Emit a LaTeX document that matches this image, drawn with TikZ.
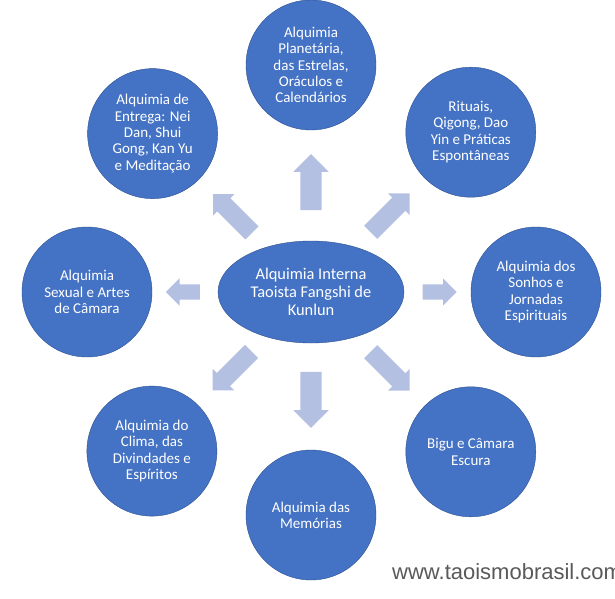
\documentclass[tikz,border=0pt]{standalone}
\usepackage{fontspec}
\setmainfont{Carlito}
\newfontfamily\webfont{Liberation Sans}
\usetikzlibrary{shapes.geometric,shapes.arrows,calc}
\definecolor{circblue}{HTML}{4472C4}
\definecolor{circline}{HTML}{2F528F}
\definecolor{arrblue}{HTML}{B4C0E2}
\definecolor{webgray}{HTML}{595959}

\begin{document}
\begin{tikzpicture}[x=1pt, y=1pt,
  hub/.style={ellipse, draw=circline, fill=circblue, text=white, align=center,
              font=\fontsize{16.4}{17.8}\selectfont, minimum width=186pt,
              minimum height=102pt, inner sep=0pt},
  topic/.style={circle, draw=circline, fill=circblue, text=white, align=center,
                font=\fontsize{15}{16.3}\selectfont, minimum size=130pt, inner sep=0pt},
  blk/.style n args={3}{single arrow, fill=arrblue, draw=none, inner sep=0pt,
                        minimum height=#1, text height=#2, text depth=0pt,
                        single arrow head extend=#3}]
  \fill[white] (-311,-306) rectangle (304,292);
  \useasboundingbox (-311,-306) rectangle (304,292);
  \node[hub] (ctr) at (0,0) {Alquimia Interna\\Taoista Fangshi de\\Kunlun};
  \node[topic] (astros) at (90:227) {Alquimia\\Planetária,\\das Estrelas,\\Oráculos e\\Calendários};
  \node[topic] (rituais) at (45:226) {Rituais,\\Qigong, Dao\\Yin e Práticas\\Espontâneas};
  \node[topic] (sonhos) at (0:225) {Alquimia dos\\Sonhos e\\Jornadas\\Espirituais};
  \node[topic] (bigu) at (-45:226) {Bigu e Câmara\\Escura};
  \node[topic] (memorias) at (-90:223) {Alquimia das\\Memórias};
  \node[topic] (clima) at (-135:225) {Alquimia do\\Clima, das\\Divindades e\\Espíritos};
  \node[topic] (sexual) at (180:224) {Alquimia\\Sexual e Artes\\de Câmara};
  \node[topic] (entrega) at (135:224) {Alquimia de\\Entrega: Nei\\Dan, Shui\\Gong, Kan Yu\\e Meditação};
  % block arrows from the hub
  \node[blk={56pt}{21pt}{7pt}, rotate=90] (toastros) at ($(ctr)!.46!(astros)$) {};
  \node[blk={55pt}{18pt}{6pt}, rotate=45] (torituais) at ($(ctr)!.475!(rituais)$) {};
  \node[blk={34pt}{15pt}{6pt}, rotate=0] (tosonhos) at ($(ctr)!.555!(sonhos)$) {};
  \node[blk={55pt}{18pt}{6pt}, rotate=-45] (tobigu) at ($(ctr)!.475!(bigu)$) {};
  \node[blk={56pt}{21pt}{7pt}, rotate=-90] (tomemorias) at ($(ctr)!.46!(memorias)$) {};
  \node[blk={55pt}{18pt}{6pt}, rotate=-135] (toclima) at ($(ctr)!.475!(clima)$) {};
  \node[blk={34pt}{15pt}{6pt}, rotate=180] (tosexual) at ($(ctr)!.555!(sexual)$) {};
  \node[blk={55pt}{18pt}{6pt}, rotate=135] (toentrega) at ($(ctr)!.475!(entrega)$) {};
  \node[font=\webfont\fontsize{22}{25}\selectfont, text=webgray, anchor=base west,
        inner sep=0pt] (web) at (81,-287) {www.taoismobrasil.com};
\end{tikzpicture}
\end{document}
